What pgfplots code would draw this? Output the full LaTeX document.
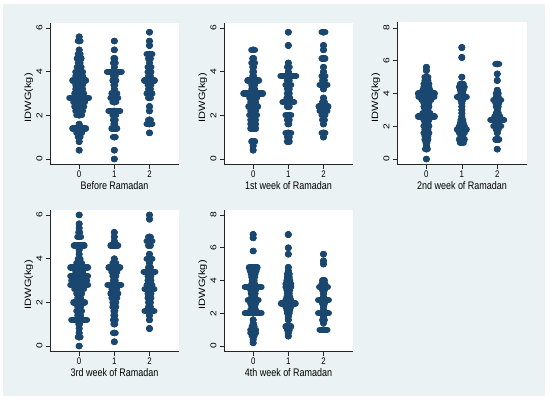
\documentclass[border=0pt]{standalone}
\usepackage{fontspec}
\setmainfont{Liberation Sans}
\newfontfamily\sqz{Liberation Sans}[FakeStretch=0.82]
\newfontfamily\wide{Liberation Sans}[FakeStretch=1.2]
\usepackage{pgfplots}
\usepackage{pgfplotstable}
\pgfplotsset{compat=1.18}
\definecolor{bg}{RGB}{234,242,243}
\definecolor{navy}{RGB}{26,71,111}
\pgfplotsset{
 dotpanel/.style={
  scale only axis, width=129bp, height=142bp, anchor=south west,
  xmin=-0.83, xmax=2.84, xtick={0,1,2},
  axis lines*=left, axis line style={black!85, line width=0.5bp},
  tick style={black!85, line width=0.5bp}, tick align=outside, major tick length=4bp,
  axis background/.style={fill=white},
  xticklabel style={font=\sqz\fontsize{9.6}{10}\selectfont, yshift=0.8bp},
  yticklabel style={font=\wide\fontsize{8.5}{9}\selectfont, rotate=90, anchor=south},
  /pgf/number format/assume math mode=true,
  ylabel={IDWG(kg)}, ylabel style={font=\wide\fontsize{9.2}{10}\selectfont,
    at={(axis description cs:-0.146,0.47)}, anchor=base, inner sep=0pt},
  xlabel style={font=\sqz\fontsize{11}{12}\selectfont,
    at={(axis description cs:0.5,-0.149)}, anchor=center},
  clip=false,
 },
 six/.style={ymin=-0.25, ymax=6.25, ytick={0,2,4,6}},
 eight/.style={ymin=-0.333, ymax=8.333, ytick={0,2,4,6,8}},
 swarm/.style={only marks, mark=*, mark size=3.15bp, color=navy,
  mark options={fill=navy, draw=none},
  error bars/.cd, x dir=both, x explicit, error mark=none,
  error bar style={line width=6.3bp, line cap=round, navy}},
}
\newcommand{\swarmplot}[1]{\addplot[swarm] table[x=x, y=y, x error expr={max(\thisrow{W}-6.3,0)/70.4}] {#1};}

\pgfplotstableread{
x y W
0 5.6 7
0 5.4 9
0 5.0 7
0 4.8 9
0 4.6 11
0 4.4 9
0 4.2 11
0 4.0 14
0 3.8 14
0 3.6 20
0 3.4 14
0 3.2 14
0 3.0 16
0 2.8 26
0 2.6 18
0 2.4 16
0 2.2 14
0 2.0 12
0 1.6 7
0 1.4 20
0 1.2 12
0 1.0 9
0 0.8 7
0 0.4 7
1 5.4 7
1 5.0 7
1 4.6 8
1 4.4 9
1 4.2 7
1 4.0 21
1 3.8 9
1 3.6 10
1 3.4 8
1 3.2 7
1 3.0 12
1 2.8 14
1 2.6 10
1 2.2 18
1 2.0 10
1 1.8 9
1 1.6 8
1 1.4 12
1 1.0 9
1 0.4 7
1 0.0 7
2 5.8 7
2 5.4 7
2 5.2 7
2 4.8 12
2 4.6 9
2 4.4 7
2 4.2 10
2 4.0 10
2 3.8 9
2 3.6 17
2 3.4 10
2 3.2 9
2 3.0 12
2 2.8 9
2 2.4 7
2 2.2 7
2 1.8 9
2 1.6 12
2 1.2 7
}\before

\pgfplotstableread{
x y W
0 5.0 10
0 4.6 8
0 4.4 10
0 4.2 8
0 4.0 8
0 3.8 8
0 3.6 18
0 3.4 10
0 3.2 10
0 3.0 26
0 2.8 14
0 2.6 12
0 2.4 16
0 2.2 12
0 2.0 14
0 1.8 12
0 1.6 12
0 1.4 12
0 0.8 10
0 0.6 7
0 0.4 7
1 5.8 7
1 5.2 7
1 4.4 7
1 4.2 9
1 4.0 7
1 3.8 22
1 3.6 9
1 3.4 12
1 3.2 9
1 3.0 9
1 2.8 10
1 2.6 18
1 2.4 9
1 2.0 12
1 1.8 9
1 1.6 8
1 1.2 12
1 1.0 9
1 0.8 9
2 5.8 10
2 5.2 7
2 5.0 7
2 4.6 10
2 4.2 7
2 4.0 7
2 3.8 10
2 3.6 9
2 3.4 14
2 3.2 7
2 2.8 7
2 2.6 9
2 2.4 16
2 2.2 14
2 2.0 10
2 1.8 9
2 1.6 7
2 1.2 10
2 1.0 7
}\weekone

\pgfplotstableread{
x y W
0 5.6 7
0 5.4 7
0 5.0 10
0 4.8 10
0 4.6 12
0 4.4 12
0 4.2 14
0 4.0 23
0 3.8 22
0 3.6 16
0 3.4 12
0 3.2 12
0 3.0 10
0 2.8 14
0 2.6 23
0 2.4 12
0 2.2 10
0 2.0 12
0 1.8 10
0 1.6 12
0 1.4 10
0 1.2 10
0 1.0 8
0 0.8 7
0 0.6 9
0 0.0 7
1 6.8 7
1 6.2 7
1 5.0 7
1 4.6 10
1 4.4 12
1 4.2 10
1 4.0 9
1 3.8 16
1 3.6 9
1 3.4 7
1 3.2 7
1 3.0 7
1 2.8 7
1 2.6 7
1 2.4 9
1 2.2 10
1 2.0 12
1 1.8 16
1 1.6 12
1 1.4 9
1 1.2 12
1 1.0 10
2 5.8 10
2 5.2 7
2 4.8 7
2 4.2 7
2 4.0 9
2 3.8 9
2 3.6 14
2 3.4 10
2 3.2 9
2 3.0 7
2 2.8 9
2 2.6 12
2 2.4 20
2 2.2 10
2 2.0 14
2 1.8 9
2 1.6 7
2 1.2 10
2 0.6 7
}\weektwo

\pgfplotstableread{
x y W
0 6.0 7
0 5.6 7
0 5.4 7
0 5.2 8
0 5.0 10
0 4.6 17
0 4.4 7
0 4.2 7
0 4.0 9
0 3.8 12
0 3.6 24
0 3.4 14
0 3.2 24
0 3.0 22
0 2.8 24
0 2.6 16
0 2.4 12
0 2.2 10
0 2.0 18
0 1.8 10
0 1.6 12
0 1.4 10
0 1.2 22
0 1.0 8
0 0.8 7
0 0.6 7
0 0.4 9
0 0.0 7
1 5.2 7
1 5.0 7
1 4.8 7
1 4.6 14
1 4.0 7
1 3.8 10
1 3.6 18
1 3.4 12
1 3.2 10
1 3.0 9
1 2.8 20
1 2.6 12
1 2.4 14
1 2.2 12
1 2.0 10
1 1.8 10
1 1.6 8
1 1.4 8
1 1.2 9
1 1.0 8
1 0.6 9
1 0.2 7
2 6.0 7
2 5.8 7
2 5.0 9
2 4.8 12
2 4.6 9
2 4.2 7
2 4.0 12
2 3.8 7
2 3.6 9
2 3.4 18
2 3.2 10
2 3.0 10
2 2.8 12
2 2.6 16
2 2.4 10
2 2.2 10
2 2.0 9
2 1.8 9
2 1.6 16
2 1.4 7
2 1.2 7
2 0.8 7
}\weekthree

\pgfplotstableread{
x y W
0 6.8 7
0 6.6 7
0 5.8 7
0 4.8 15
0 4.6 13
0 4.4 11
0 4.2 10
0 4.0 9
0 3.8 10
0 3.6 23
0 3.4 12
0 3.2 11
0 3.0 10
0 2.8 17
0 2.6 12
0 2.4 10
0 2.2 12
0 2.0 23
0 1.6 7
0 1.4 7
0 1.2 9
0 1.0 12
0 0.8 12
0 0.6 9
0 0.4 7
0 0.2 7
1 6.8 7
1 6.0 7
1 5.6 7
1 4.8 7
1 4.6 7
1 4.4 9
1 4.2 9
1 4.0 10
1 3.8 12
1 3.6 12
1 3.4 10
1 3.2 9
1 3.0 10
1 2.8 12
1 2.6 21
1 2.4 12
1 2.2 10
1 2.0 9
1 1.8 7
1 1.6 7
1 1.2 12
1 1.0 9
1 0.8 7
1 0.6 7
2 5.6 7
2 5.2 7
2 5.0 7
2 4.0 9
2 3.8 10
2 3.6 15
2 3.4 9
2 3.2 7
2 3.0 7
2 2.8 17
2 2.6 9
2 2.4 7
2 2.2 7
2 2.0 17
2 1.8 7
2 1.6 9
2 1.4 7
2 1.0 14
}\weekfour

\begin{document}
\begin{tikzpicture}[x=1bp,y=1bp]
\path (0,0) rectangle (550,401);
\fill[bg] (3,5) rectangle (545,397);
\begin{axis}[dotpanel, six, at={(50bp,236.5bp)}, xlabel={Before Ramadan}]
\swarmplot{\before}
\end{axis}
\begin{axis}[dotpanel, six, at={(224bp,236.5bp)}, xlabel={1st week of Ramadan}]
\swarmplot{\weekone}
\end{axis}
\begin{axis}[dotpanel, eight, at={(397bp,236.5bp)}, width=130bp, xlabel={2nd week of Ramadan}]
\swarmplot{\weektwo}
\end{axis}
\begin{axis}[dotpanel, six, at={(50bp,49.5bp)}, xlabel={3rd week of Ramadan}]
\swarmplot{\weekthree}
\end{axis}
\begin{axis}[dotpanel, eight, at={(224bp,49.5bp)}, xlabel={4th week of Ramadan}]
\swarmplot{\weekfour}
\end{axis}
\end{tikzpicture}
\end{document}
